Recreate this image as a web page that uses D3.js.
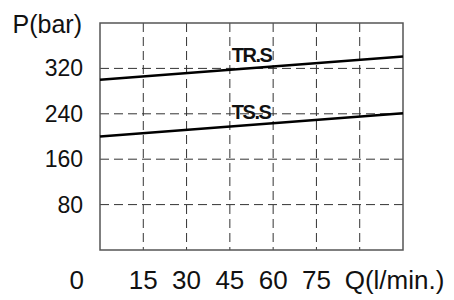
<!DOCTYPE html>
<html>
<head>
<meta charset="utf-8">
<script src="https://cdn.jsdelivr.net/npm/d3@7"></script>
<style>
  body { margin: 0; background: #fff; }
  text { font-family: "Liberation Sans", Arial, sans-serif; fill: #111; }
</style>
</head>
<body>
<div class="chart"></div>
<script>
// chart data
var xTicks = [15, 30, 45, 60, 75, 90];
var xLabels = ["15", "30", "45", "60", "75"];
var yTicks = [80, 160, 240, 320];
var seriesNames = ["TR.S", "TS.S"];
var flowQ = [0, 105];
var trsPressure = [300, 341];
var tssPressure = [200, 241];

var svgWidth = 454;
var svgHeight = 300;

var margin = { top: 23, right: 51, bottom: 50, left: 100 };
var width = svgWidth - margin.left - margin.right;
var height = svgHeight - margin.top - margin.bottom;

var svg = d3.select(".chart")
    .append("svg")
    .attr("width", svgWidth)
    .attr("height", svgHeight);

var chartGroup = svg.append("g")
    .attr("transform", `translate(${margin.left}, ${margin.top})`);

// scales
var xScale = d3.scaleLinear().domain([0, 105]).range([0, width]);
var yScale = d3.scaleLinear().domain([0, 400]).range([height, 0]);

// dashed grid
chartGroup.selectAll(".vgrid")
    .data(xTicks)
    .enter()
    .append("line")
    .attr("x1", d => xScale(d)).attr("x2", d => xScale(d))
    .attr("y1", 0).attr("y2", height)
    .attr("stroke", "#333")
    .attr("stroke-width", 1)
    .attr("stroke-dasharray", "9,5");

chartGroup.selectAll(".hgrid")
    .data(yTicks)
    .enter()
    .append("line")
    .attr("x1", 0).attr("x2", width)
    .attr("y1", d => yScale(d)).attr("y2", d => yScale(d))
    .attr("stroke", "#333")
    .attr("stroke-width", 1)
    .attr("stroke-dasharray", "9,5");

// frame
chartGroup.append("rect")
    .attr("x", 0).attr("y", 0)
    .attr("width", width).attr("height", height)
    .attr("fill", "none")
    .attr("stroke", "#555")
    .attr("stroke-width", 1.5);

// pressure lines
var line = d3.line()
    .x(d => xScale(d[0]))
    .y(d => yScale(d[1]));

var series = [
    { name: seriesNames[0], values: d3.zip(flowQ, trsPressure) },
    { name: seriesNames[1], values: d3.zip(flowQ, tssPressure) }
];

chartGroup.selectAll(".pline")
    .data(series)
    .enter()
    .append("path")
    .attr("d", d => line(d.values))
    .attr("fill", "none")
    .attr("stroke", "#000")
    .attr("stroke-width", 2.5);

// series labels, sitting just above each line
chartGroup.selectAll(".plabel")
    .data(series)
    .enter()
    .append("text")
    .attr("x", xScale(45) + 2)
    .attr("y", d => yScale(d3.interpolateNumber(d.values[0][1], d.values[1][1])(45 / 105)) - 8)
    .attr("font-size", 20)
    .attr("font-weight", "bold")
    .attr("letter-spacing", "-1.5px")
    .text(d => d.name);

// y tick labels
chartGroup.selectAll(".ylabel")
    .data(yTicks)
    .enter()
    .append("text")
    .attr("x", -17)
    .attr("y", d => yScale(d) + 8)
    .attr("text-anchor", "end")
    .attr("font-size", 23)
    .text(d => d);

// x tick labels
chartGroup.selectAll(".xlabel")
    .data(xLabels)
    .enter()
    .append("text")
    .attr("x", d => xScale(+d))
    .attr("y", height + 38.5)
    .attr("text-anchor", "middle")
    .attr("font-size", 26)
    .text(d => d);

// origin label
chartGroup.append("text")
    .attr("x", -16)
    .attr("y", height + 38.5)
    .attr("text-anchor", "end")
    .attr("font-size", 26)
    .text("0");

// axis titles
chartGroup.append("text")
    .attr("x", xScale(90) - 15)
    .attr("y", height + 38.5)
    .attr("font-size", 26)
    .text("Q(l/min.)");

chartGroup.append("text")
    .attr("x", -18)
    .attr("y", 10)
    .attr("text-anchor", "end")
    .attr("font-size", 25)
    .text("P(bar)");
</script>
</body>
</html>
